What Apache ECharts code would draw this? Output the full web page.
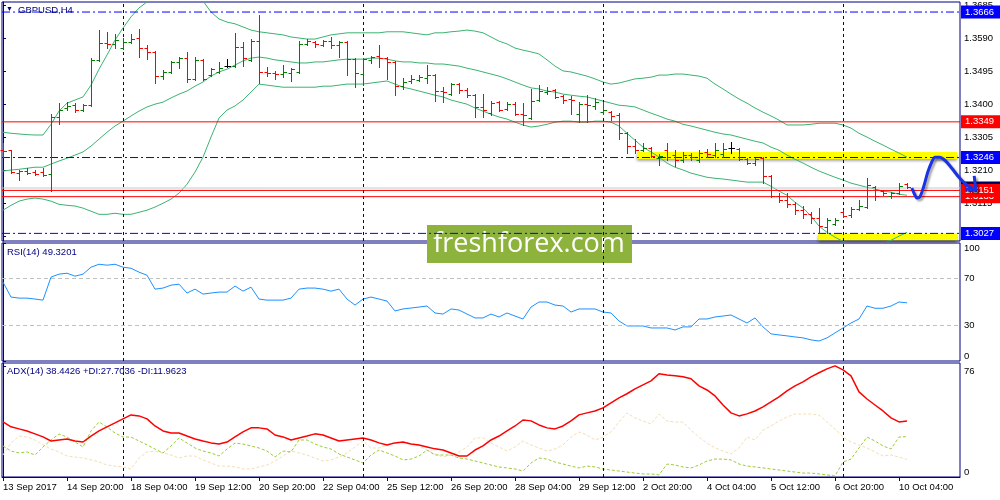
<!DOCTYPE html>
<html>
<head>
<meta charset="utf-8">
<title>GBPUSD,H4</title>
<script src="https://cdn.jsdelivr.net/npm/echarts@6/dist/echarts.min.js"></script>
<style>
  html, body { margin: 0; padding: 0; background: #fff; }
  #chart { width: 1000px; height: 500px; }
</style>
</head>
<body>
<div id="chart"></div>
<script>
// GBPUSD H4 bars, one entry per bar (index 0 = 13 Sep 2017 12:00)
const barOpen = [1.3267,1.3267,1.3201,1.3207,1.3204,1.3204,1.3198,1.3363,1.3389,1.3397,
  1.3383,1.3397,1.3528,1.3577,1.3574,1.3562,1.3580,1.3591,1.3562,1.3551,
  1.3481,1.3493,1.3522,1.3533,1.3473,1.3528,1.3484,1.3493,1.3510,1.3510,
  1.3565,1.3528,1.3582,1.3493,1.3490,1.3487,1.3490,1.3493,1.3574,1.3580,
  1.3571,1.3582,1.3571,1.3580,1.3530,1.3487,1.3528,1.3539,1.3533,1.3522,
  1.3452,1.3467,1.3470,1.3475,1.3484,1.3438,1.3429,1.3458,1.3441,1.3426,
  1.3392,1.3374,1.3406,1.3386,1.3400,1.3371,1.3360,1.3412,1.3435,1.3441,
  1.3423,1.3415,1.3371,1.3400,1.3395,1.3377,1.3377,1.3368,1.3316,1.3279,
  1.3267,1.3273,1.3244,1.3267,1.3253,1.3238,1.3253,1.3238,1.3262,1.3253,
  1.3256,1.3273,1.3270,1.3241,1.3230,1.3244,1.3192,1.3134,1.3123,1.3111,
  1.3094,1.3082,1.3071,1.3045,1.3054,1.3088,1.3080,1.3097,1.3103,1.3160,
  1.3149,1.3134,1.3143,1.3169];
const barHigh = [1.3288,1.3267,1.3210,1.3215,1.3210,1.3215,1.3371,1.3403,1.3406,1.3403,
  1.3400,1.3533,1.3614,1.3609,1.3603,1.3591,1.3603,1.3617,1.3571,1.3553,
  1.3499,1.3525,1.3536,1.3551,1.3536,1.3530,1.3504,1.3522,1.3530,1.3606,
  1.3580,1.3588,1.3657,1.3507,1.3496,1.3513,1.3504,1.3582,1.3588,1.3582,
  1.3585,1.3594,1.3582,1.3582,1.3533,1.3533,1.3539,1.3571,1.3536,1.3525,
  1.3475,1.3484,1.3484,1.3513,1.3487,1.3449,1.3461,1.3461,1.3447,1.3429,
  1.3429,1.3409,1.3409,1.3406,1.3406,1.3403,1.3444,1.3455,1.3449,1.3444,
  1.3426,1.3423,1.3406,1.3426,1.3418,1.3406,1.3380,1.3374,1.3319,1.3299,
  1.3288,1.3276,1.3256,1.3288,1.3267,1.3262,1.3259,1.3267,1.3270,1.3288,
  1.3288,1.3290,1.3273,1.3244,1.3244,1.3247,1.3195,1.3143,1.3143,1.3117,
  1.3106,1.3088,1.3100,1.3071,1.3071,1.3094,1.3103,1.3123,1.3186,1.3163,
  1.3152,1.3146,1.3172,1.3172];
const barLow = [1.3247,1.3201,1.3181,1.3198,1.3195,1.3192,1.3149,1.3342,1.3383,1.3377,
  1.3380,1.3395,1.3525,1.3562,1.3562,1.3559,1.3577,1.3536,1.3530,1.3461,
  1.3473,1.3490,1.3504,1.3464,1.3470,1.3470,1.3481,1.3490,1.3507,1.3507,
  1.3510,1.3525,1.3461,1.3481,1.3473,1.3478,1.3467,1.3490,1.3571,1.3565,
  1.3568,1.3562,1.3536,1.3484,1.3449,1.3455,1.3519,1.3507,1.3473,1.3426,
  1.3444,1.3461,1.3467,1.3461,1.3409,1.3406,1.3426,1.3432,1.3421,1.3363,
  1.3363,1.3368,1.3380,1.3383,1.3368,1.3340,1.3357,1.3409,1.3429,1.3418,
  1.3403,1.3371,1.3348,1.3348,1.3386,1.3371,1.3354,1.3299,1.3259,1.3259,
  1.3264,1.3247,1.3224,1.3238,1.3221,1.3233,1.3238,1.3233,1.3247,1.3247,
  1.3247,1.3259,1.3238,1.3227,1.3224,1.3172,1.3132,1.3117,1.3103,1.3082,
  1.3071,1.3056,1.3027,1.3027,1.3051,1.3074,1.3074,1.3094,1.3100,1.3123,
  1.3137,1.3129,1.3140,1.3158];
const barClose = [1.3264,1.3204,1.3207,1.3201,1.3198,1.3195,1.3363,1.3383,1.3395,1.3383,
  1.3397,1.3528,1.3577,1.3574,1.3585,1.3580,1.3588,1.3562,1.3551,1.3481,
  1.3493,1.3522,1.3533,1.3473,1.3528,1.3473,1.3501,1.3504,1.3510,1.3565,
  1.3533,1.3582,1.3493,1.3490,1.3487,1.3493,1.3501,1.3574,1.3582,1.3574,
  1.3582,1.3571,1.3580,1.3530,1.3490,1.3530,1.3536,1.3533,1.3522,1.3452,
  1.3464,1.3473,1.3478,1.3484,1.3438,1.3435,1.3458,1.3441,1.3426,1.3392,
  1.3383,1.3403,1.3383,1.3400,1.3371,1.3368,1.3409,1.3438,1.3438,1.3421,
  1.3412,1.3412,1.3400,1.3397,1.3406,1.3383,1.3366,1.3316,1.3279,1.3267,
  1.3273,1.3250,1.3250,1.3247,1.3238,1.3253,1.3247,1.3259,1.3256,1.3267,
  1.3270,1.3273,1.3241,1.3230,1.3241,1.3192,1.3134,1.3123,1.3111,1.3094,
  1.3082,1.3071,1.3048,1.3065,1.3065,1.3077,1.3097,1.3106,1.3166,1.3134,
  1.3143,1.3143,1.3163,1.3160];

// Bollinger bands
const bbUpper = [1.3319,1.3316,1.3314,1.3312,1.3311,1.3311,1.3342,1.3380,1.3403,1.3412,
  1.3421,1.3455,1.3501,1.3542,1.3585,1.3620,1.3652,1.3678,1.3695,1.3710,
  1.3718,1.3724,1.3727,1.3724,1.3715,1.3698,1.3666,1.3646,1.3637,1.3632,
  1.3623,1.3614,1.3609,1.3606,1.3603,1.3600,1.3594,1.3591,1.3588,1.3588,
  1.3594,1.3600,1.3603,1.3606,1.3606,1.3606,1.3606,1.3606,1.3609,1.3609,
  1.3609,1.3606,1.3603,1.3600,1.3606,1.3606,1.3609,1.3611,1.3614,1.3611,
  1.3606,1.3594,1.3582,1.3574,1.3562,1.3556,1.3551,1.3545,1.3528,1.3510,
  1.3496,1.3493,1.3487,1.3481,1.3473,1.3464,1.3458,1.3461,1.3467,1.3473,
  1.3475,1.3478,1.3484,1.3484,1.3487,1.3487,1.3484,1.3481,1.3475,1.3458,
  1.3444,1.3429,1.3415,1.3403,1.3389,1.3377,1.3366,1.3354,1.3340,1.3340,
  1.3340,1.3342,1.3345,1.3345,1.3345,1.3340,1.3331,1.3316,1.3305,1.3293,
  1.3282,1.3270,1.3259,1.3247];
const bbMiddle = [1.3207,1.3210,1.3212,1.3215,1.3218,1.3218,1.3227,1.3236,1.3244,1.3253,
  1.3262,1.3279,1.3299,1.3319,1.3337,1.3351,1.3366,1.3380,1.3392,1.3400,
  1.3406,1.3418,1.3429,1.3438,1.3452,1.3464,1.3481,1.3493,1.3501,1.3513,
  1.3525,1.3533,1.3536,1.3533,1.3528,1.3525,1.3522,1.3519,1.3519,1.3522,
  1.3522,1.3525,1.3528,1.3530,1.3530,1.3530,1.3533,1.3533,1.3530,1.3525,
  1.3522,1.3522,1.3519,1.3519,1.3516,1.3516,1.3513,1.3510,1.3504,1.3499,
  1.3493,1.3487,1.3481,1.3473,1.3464,1.3455,1.3447,1.3444,1.3438,1.3435,
  1.3429,1.3426,1.3423,1.3421,1.3415,1.3409,1.3403,1.3397,1.3395,1.3392,
  1.3383,1.3374,1.3366,1.3357,1.3351,1.3342,1.3337,1.3331,1.3325,1.3319,
  1.3314,1.3311,1.3305,1.3299,1.3293,1.3288,1.3276,1.3267,1.3253,1.3241,
  1.3230,1.3218,1.3207,1.3198,1.3189,1.3181,1.3172,1.3166,1.3160,1.3155,
  1.3149,1.3146,1.3140,1.3137];
const bbLower = [1.3094,1.3108,1.3120,1.3126,1.3129,1.3126,1.3120,1.3111,1.3108,1.3106,
  1.3100,1.3091,1.3082,1.3082,1.3085,1.3082,1.3082,1.3088,1.3094,1.3103,
  1.3114,1.3126,1.3143,1.3169,1.3204,1.3247,1.3305,1.3360,1.3383,1.3395,
  1.3412,1.3435,1.3458,1.3455,1.3452,1.3449,1.3449,1.3449,1.3449,1.3449,
  1.3452,1.3452,1.3455,1.3458,1.3458,1.3458,1.3461,1.3464,1.3467,1.3458,
  1.3449,1.3444,1.3438,1.3432,1.3426,1.3421,1.3412,1.3406,1.3400,1.3389,
  1.3380,1.3371,1.3363,1.3357,1.3348,1.3340,1.3334,1.3337,1.3342,1.3348,
  1.3351,1.3351,1.3348,1.3348,1.3351,1.3351,1.3348,1.3337,1.3316,1.3296,
  1.3276,1.3262,1.3247,1.3230,1.3218,1.3210,1.3201,1.3195,1.3189,1.3186,
  1.3184,1.3181,1.3178,1.3175,1.3175,1.3175,1.3163,1.3149,1.3137,1.3117,
  1.3100,1.3077,1.3048,1.3030,1.3016,1.3004,1.2996,1.2990,1.2987,1.2990,
  1.2998,1.3007,1.3019,1.3030];

// RSI(14)
const rsi = [66.8,54.2,53.3,53.3,52.5,51.6,71.1,73.6,74.4,71.9,
  73.6,79.5,82.0,81.2,82.0,79.5,78.6,75.3,72.7,60.9,
  61.8,64.3,65.1,57.6,60.9,56.7,57.6,58.4,58.4,63.5,
  59.2,62.6,52.5,51.6,51.6,51.6,53.3,60.9,61.8,61.8,
  60.9,59.2,60.9,52.5,47.4,52.5,54.2,52.5,50.8,42.4,
  44.1,44.9,45.7,46.6,40.7,39.8,44.1,43.2,39.8,36.5,
  36.5,39.8,37.3,40.7,38.1,35.6,45.7,50.0,50.0,47.4,
  46.6,41.5,44.1,44.1,44.1,41.5,40.7,33.9,29.7,29.7,
  29.7,28.0,28.0,28.0,26.3,28.9,28.9,35.6,35.6,37.3,
  38.1,39.0,35.6,32.2,36.5,28.9,23.0,22.1,21.3,20.4,
  19.6,17.9,16.9,19.6,23.8,28.0,32.2,35.6,46.6,44.7,
  44.7,46.6,50.0,49.3];

// ADX(14) with +DI / -DI
const adx = [37.8,34.4,33.0,31.6,29.6,27.5,24.7,25.4,26.1,24.7,
  24.0,28.1,31.6,34.4,37.1,39.9,42.6,41.9,39.9,35.0,
  31.6,30.2,30.2,28.1,26.1,24.7,23.4,22.7,24.0,27.5,
  30.9,33.7,33.7,33.0,28.8,27.5,25.4,26.8,28.1,29.6,
  28.8,26.8,24.7,25.4,26.1,26.8,25.4,23.4,21.9,23.4,
  24.0,22.7,21.9,20.6,19.3,18.5,16.5,14.4,14.4,18.5,
  21.3,25.4,28.1,31.6,35.0,39.1,38.5,35.7,33.7,33.0,
  35.0,38.5,42.6,44.0,45.3,47.4,50.9,54.3,57.1,60.5,
  63.2,65.9,70.8,70.0,69.4,68.7,67.4,62.5,59.7,55.6,
  49.4,44.0,41.9,43.3,45.3,48.1,51.5,55.0,59.1,62.5,
  65.3,68.7,71.5,74.2,76.2,73.5,69.4,58.4,53.5,49.4,
  45.3,40.6,37.8,38.4];
const plusDI = [21.3,17.8,16.5,17.2,15.1,20.6,25.4,29.5,27.4,24.0,
  20.6,31.6,37.7,34.3,30.2,27.4,27.4,24.7,22.0,19.2,
  16.5,21.3,26.8,23.3,19.9,17.8,16.5,14.4,19.2,23.3,
  22.6,21.3,19.9,17.8,13.7,17.8,17.2,25.4,25.4,22.6,
  20.6,19.2,15.8,13.7,11.7,9.6,15.1,18.5,16.5,14.4,
  11.7,12.3,14.4,18.5,15.1,15.1,15.1,13.0,12.3,11.0,
  9.6,8.2,6.9,6.2,5.5,4.1,9.6,13.0,12.3,10.3,
  8.9,7.5,6.2,7.5,6.9,5.5,4.8,4.1,3.4,2.7,
  2.1,2.1,1.4,8.9,8.2,6.9,6.2,8.2,11.0,12.3,
  12.3,11.7,8.9,7.5,6.9,6.2,5.5,4.8,4.1,3.4,
  2.7,2.7,2.1,1.4,0.7,10.3,12.3,19.9,27.4,24.7,
  21.3,19.2,27.4,27.7];
const minusDI = [15.1,23.3,28.1,27.4,25.4,22.0,19.2,17.2,14.4,13.7,
  13.0,11.7,10.3,8.2,7.5,6.9,5.5,13.0,17.2,17.8,
  16.5,15.1,13.0,14.4,14.4,11.7,9.6,7.5,7.5,6.9,
  5.5,5.5,6.9,8.2,11.0,14.4,17.8,16.5,15.1,13.0,
  11.0,11.7,13.7,16.5,20.6,24.7,19.9,19.9,22.0,24.0,
  23.3,22.6,21.3,18.5,15.8,13.7,15.1,17.2,20.6,26.8,
  26.8,23.3,20.6,17.8,20.6,24.7,22.0,19.9,17.8,19.2,
  22.0,27.4,30.9,28.8,25.4,27.4,30.9,37.7,43.9,40.5,
  38.4,36.4,43.2,38.4,37.7,37.7,32.2,27.4,23.3,19.9,
  17.8,15.8,19.9,27.4,25.4,32.2,35.0,38.4,41.2,43.2,
  43.2,43.2,42.5,37.7,32.9,27.4,24.0,22.0,19.9,17.2,
  14.4,15.1,13.7,12.0];

// axis ticks
const xTickIdx = [0,8,16,24,32,40,48,56,64,72,80,88,96,104,112];
const xTickLabels = ['13 Sep 2017','14 Sep 20:00','18 Sep 04:00','19 Sep 12:00','20 Sep 20:00',
  '22 Sep 04:00','25 Sep 12:00','26 Sep 20:00','28 Sep 04:00','29 Sep 12:00',
  '2 Oct 20:00','4 Oct 04:00','5 Oct 12:00','6 Oct 20:00','10 Oct 04:00'];
const priceTicks = [1.3020,1.3115,1.3210,1.3305,1.3400,1.3495,1.3590,1.3685];
const rsiTicks = [0,30,70,100];
const adxTicks = [0,76];
const weekStarts = [15,45,75,105];

// horizontal levels: [price, line colour, dash, tag colour]
const levelPrices = [1.3666, 1.3246, 1.3027, 1.3349, 1.3158, 1.3133, 1.3151];
const levelColors = ['#0000ff', '#0000ff', '#0000ff', '#ff0000', '#c8c8c8', '#ff0000', '#ff0000'];
const levelTags = ['#0000ff', '#0000ff', '#0000ff', '#ff0000', '#000060', '#ff0000', '#ff0000'];
const levelDashed = [true, true, true, false, false, false, false];

const zoneTop = [79.25, 1.3262, 119.25, 1.3241];
const zoneBottom = [101.9, 1.3027, 119.25, 1.3007];

// hand drawn forecast arrow (bar index, price)
const arrowPath = [[113.6,1.3158],[114.0,1.3137],[114.25,1.3129],[114.6,1.3132],[115.1,1.3163],
  [115.6,1.3204],[116.1,1.3233],[116.5,1.3247],[117.1,1.3247],[117.75,1.3238],[118.6,1.3215],
  [119.6,1.3186],[120.5,1.3166],[121.1,1.3158],[121.75,1.3152]];
const arrowHead = [[121.4,1.3193],[121.6,1.3152],[120.25,1.3155]];

const FONT = '"Liberation Sans", Arial, sans-serif';
const NAVY = '#000080';
const UP = '#008000', DOWN = '#ff0000', DOJI = '#000000';
const BAND = '#3cb371';
const X_MIN = -0.125, X_MAX = 119.625;
const P_MIN = 1.3005, P_MAX = 1.3695;

const chart = echarts.init(document.getElementById('chart'));

const barData = barOpen.map(function (o, i) {
  return [i, o, barHigh[i], barLow[i], barClose[i]];
});
const pairs = function (arr) {
  return arr.map(function (v, i) { return [i, v]; });
};

function renderBar(params, api) {
  const i = api.value(0), o = api.value(1), c = api.value(4);
  const po = api.coord([i, o]);
  const ph = api.coord([i, api.value(2)]);
  const pl = api.coord([i, api.value(3)]);
  const pc = api.coord([i, c]);
  const x = Math.round(po[0]) + 0.5;
  const yo = Math.round(po[1]) + 0.5;
  const yc = Math.round(pc[1]) + 0.5;
  const color = c > o ? UP : (c < o ? DOWN : DOJI);
  const style = { stroke: color, lineWidth: 1 };
  return {
    type: 'group',
    children: [
      { type: 'line', shape: { x1: x, y1: Math.round(ph[1]), x2: x, y2: Math.round(pl[1]) + 1 }, style: style },
      { type: 'line', shape: { x1: x - 3, y1: yo, x2: x, y2: yo }, style: style },
      { type: 'line', shape: { x1: x, y1: yc, x2: x + 3.5, y2: yc }, style: style }
    ]
  };
}

const separators = {
  silent: true, symbol: ['none', 'none'],
  label: { show: false },
  lineStyle: { color: NAVY, type: [3, 3], width: 1 },
  data: weekStarts.map(function (v) { return { xAxis: v }; })
};

const xAxisBase = function (gi, showLabels, max) {
  return {
    type: 'value', gridIndex: gi, min: X_MIN, max: max || X_MAX,
    splitLine: { show: false },
    axisLine: { show: showLabels, lineStyle: { color: NAVY } },
    axisTick: { show: showLabels, customValues: xTickIdx, length: 4, lineStyle: { color: NAVY } },
    axisLabel: {
      show: showLabels, customValues: xTickIdx, align: 'left', margin: 5,
      color: '#000', fontFamily: FONT, fontSize: 9.5,
      formatter: function (v) {
        const k = xTickIdx.indexOf(Math.round(v));
        return k >= 0 ? xTickLabels[k] : '';
      }
    }
  };
};

const yAxisBase = function (gi, min, max, ticks, fmt, edgeAlign) {
  const label = {
    customValues: ticks, margin: 4, color: '#000',
    fontFamily: FONT, fontSize: 9.5, formatter: fmt
  };
  if (edgeAlign) {
    label.verticalAlignMinLabel = 'bottom';
    label.verticalAlignMaxLabel = 'top';
  }
  return {
    type: 'value', gridIndex: gi, position: 'right', min: min, max: max,
    splitLine: { show: false },
    axisLine: { show: true, lineStyle: { color: NAVY } },
    axisTick: { show: true, customValues: ticks, length: 3, lineStyle: { color: NAVY } },
    axisLabel: label
  };
};

const levelSeries = levelPrices.map(function (p, k) {
  return {
    name: 'level ' + p, type: 'line', xAxisIndex: 0, yAxisIndex: 0,
    data: [[X_MIN, p], [X_MAX, p]], showSymbol: false, silent: true, z: 4 + k * 0.01,
    lineStyle: { color: levelColors[k], width: 1, type: levelDashed[k] ? [8, 3, 2, 3] : 'solid' },
    endLabel: {
      show: true, distance: 1, formatter: p.toFixed(4),
      color: '#fff', backgroundColor: levelTags[k], padding: [2, 6, 1, 4],
      fontFamily: FONT, fontSize: 9.5
    }
  };
});

const option = {
  animation: false,
  backgroundColor: '#fff',
  grid: [
    { left: 2, right: 40, top: 2, height: 239, show: true, borderColor: NAVY, borderWidth: 1, backgroundColor: 'transparent' },
    { left: 2, right: 40, top: 243, height: 118, show: true, borderColor: NAVY, borderWidth: 1, backgroundColor: 'transparent' },
    { left: 2, right: 40, top: 363, height: 114, show: true, borderColor: NAVY, borderWidth: 1, backgroundColor: 'transparent' },
    // same price scale, stretched over the label strip for the forecast arrow
    { left: 2, right: 2, top: 2, height: 239, show: false }
  ],
  xAxis: [
    xAxisBase(0, false), xAxisBase(1, false), xAxisBase(2, true),
    Object.assign(xAxisBase(3, false, X_MIN + 996 / 8), { show: false })
  ],
  yAxis: [
    yAxisBase(0, P_MIN, P_MAX, priceTicks, function (v) { return v.toFixed(4); }, false),
    yAxisBase(1, 0, 100, rsiTicks, function (v) { return String(v); }, true),
    yAxisBase(2, 0, 78.2, adxTicks, function (v) { return String(v); }, true),
    { type: 'value', gridIndex: 3, min: P_MIN, max: P_MAX, show: false }
  ],
  series: [
    {
      name: 'zones', type: 'line', xAxisIndex: 0, yAxisIndex: 0, data: [], z: 1,
      markArea: {
        silent: true,
        itemStyle: { color: '#ffff00', shadowColor: 'rgba(0,0,0,0.45)', shadowBlur: 3, shadowOffsetY: 2 },
        data: [
          [{ xAxis: zoneTop[0], yAxis: zoneTop[1] }, { xAxis: zoneTop[2], yAxis: zoneTop[3] }],
          [{ xAxis: zoneBottom[0], yAxis: zoneBottom[1] }, { xAxis: zoneBottom[2], yAxis: zoneBottom[3] }]
        ]
      }
    },
    {
      name: 'BB upper', type: 'line', xAxisIndex: 0, yAxisIndex: 0, data: pairs(bbUpper),
      showSymbol: false, lineStyle: { color: BAND, width: 1 }, z: 2
    },
    {
      name: 'BB middle', type: 'line', xAxisIndex: 0, yAxisIndex: 0, data: pairs(bbMiddle),
      showSymbol: false, lineStyle: { color: BAND, width: 1 }, z: 2,
      markLine: separators
    },
    {
      name: 'BB lower', type: 'line', xAxisIndex: 0, yAxisIndex: 0, data: pairs(bbLower),
      showSymbol: false, lineStyle: { color: BAND, width: 1 }, z: 2
    }
  ].concat(levelSeries).concat([
    {
      name: 'GBPUSD', type: 'custom', xAxisIndex: 0, yAxisIndex: 0, data: barData,
      renderItem: renderBar, encode: { x: 0, y: [1, 2, 3, 4] }, z: 5
    },
    {
      name: 'forecast', type: 'line', xAxisIndex: 3, yAxisIndex: 3, data: arrowPath,
      smooth: 0.3, showSymbol: false, z: 10,
      lineStyle: { color: '#1b31e6', width: 3, shadowColor: 'rgba(0,0,0,0.35)', shadowBlur: 2, shadowOffsetX: 2, shadowOffsetY: 2 }
    },
    {
      name: 'forecast head', type: 'line', xAxisIndex: 3, yAxisIndex: 3, data: arrowHead,
      showSymbol: false, z: 10,
      lineStyle: { color: '#1b31e6', width: 3, shadowColor: 'rgba(0,0,0,0.35)', shadowBlur: 2, shadowOffsetX: 2, shadowOffsetY: 2 }
    },
    {
      name: 'RSI', type: 'line', xAxisIndex: 1, yAxisIndex: 1, data: pairs(rsi),
      showSymbol: false, lineStyle: { color: '#1e90ff', width: 1 }, z: 3,
      markLine: {
        silent: true, symbol: ['none', 'none'], label: { show: false },
        data: [
          { yAxis: 70, lineStyle: { color: '#c0c0c0', type: [4, 3], width: 1 } },
          { yAxis: 30, lineStyle: { color: '#c0c0c0', type: [4, 3], width: 1 } }
        ].concat(weekStarts.map(function (v) {
          return { xAxis: v, lineStyle: separators.lineStyle };
        }))
      }
    },
    {
      name: '-DI', type: 'line', xAxisIndex: 2, yAxisIndex: 2, data: pairs(minusDI),
      showSymbol: false, lineStyle: { color: '#f5deb3', width: 1, type: [3, 2] }, z: 2,
      markLine: {
        silent: true, symbol: ['none', 'none'], label: { show: false },
        lineStyle: separators.lineStyle,
        data: weekStarts.map(function (v) { return { xAxis: v }; })
      }
    },
    {
      name: '+DI', type: 'line', xAxisIndex: 2, yAxisIndex: 2, data: pairs(plusDI),
      showSymbol: false, lineStyle: { color: '#9acd32', width: 1, type: [3, 2] }, z: 3
    },
    {
      name: 'ADX', type: 'line', xAxisIndex: 2, yAxisIndex: 2, data: pairs(adx),
      showSymbol: false, lineStyle: { color: '#ff0000', width: 1.5 }, z: 4
    }
  ]),
  graphic: [
    { type: 'text', left: 6, top: 6, z: 20, style: { text: '\u25BC', fill: NAVY, font: '7px ' + FONT } },
    { type: 'text', left: 18, top: 5, z: 20, style: { text: 'GBPUSD,H4', fill: NAVY, font: '9.5px ' + FONT } },
    { type: 'text', left: 7, top: 247, z: 20, style: { text: 'RSI(14) 49.3201', fill: NAVY, font: '9.5px ' + FONT } },
    { type: 'text', left: 7, top: 366, z: 20, style: { text: 'ADX(14) 38.4426 +DI:27.7036 -DI:11.9623', fill: NAVY, font: '9.5px ' + FONT } },
    {
      type: 'group', left: 427, top: 225, z: 30,
      children: [
        { type: 'rect', shape: { x: 0, y: 0, width: 205, height: 38 }, style: { fill: '#8db33c' } },
        { type: 'text', x: 102, y: 19, style: { text: 'freshforex.com', fill: '#fff', font: '27px "Open Sans", sans-serif', align: 'center', verticalAlign: 'middle' } }
      ]
    }
  ]
};

chart.setOption(option);
</script>
</body>
</html>
